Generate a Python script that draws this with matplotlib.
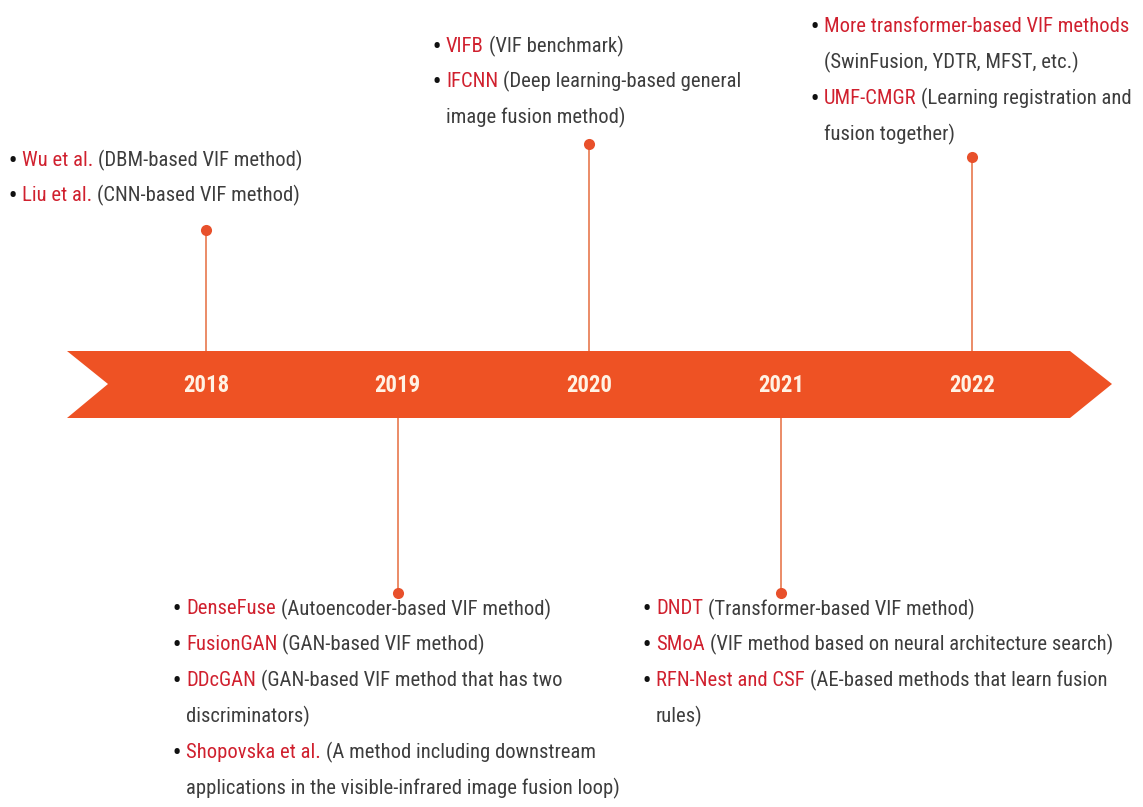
import logging
import matplotlib
matplotlib.use("Agg")
import matplotlib.pyplot as plt
from matplotlib.patches import Polygon
from matplotlib import font_manager

logging.getLogger("matplotlib.font_manager").setLevel(logging.ERROR)

# ---------------- data ----------------
years = ["2018", "2019", "2020", "2021", "2022"]
sides = ["up", "down", "up", "down", "up"]

events_2018 = [
    ("Wu et al.", ["(DBM-based VIF method)"]),
    ("Liu et al.", ["(CNN-based VIF method)"]),
]
events_2019 = [
    ("DenseFuse", ["(Autoencoder-based VIF method)"]),
    ("FusionGAN", ["(GAN-based VIF method)"]),
    ("DDcGAN", ["(GAN-based VIF method that has two", "discriminators)"]),
    ("Shopovska et al.", ["(A method including downstream",
                          "applications in the visible-infrared image fusion loop)"]),
]
events_2020 = [
    ("VIFB", ["(VIF benchmark)"]),
    ("IFCNN", ["(Deep learning-based general", "image fusion method)"]),
]
events_2021 = [
    ("DNDT", ["(Transformer-based VIF method)"]),
    ("SMoA", ["(VIF method based on neural architecture search)"]),
    ("RFN-Nest and CSF", ["(AE-based methods that learn fusion", "rules)"]),
]
events_2022 = [
    ("More transformer-based VIF methods", ["", "(SwinFusion, YDTR, MFST, etc.)"]),
    ("UMF-CMGR", ["(Learning registration and", "fusion together)"]),
]
events = [events_2018, events_2019, events_2020, events_2021, events_2022]

# ---------------- layout / style ----------------
W, H = 1143, 807
ARROW = "#EE5224"
STEM = "#E9825C"
DOT = "#E8502B"
RED = "#D0202E"
GREY = "#3D3D3D"
YEAR_C = "#FFF2E4"

pref = ["Liberation Sans Narrow", "Roboto Condensed", "Open Sans Condensed",
        "Lato", "Roboto"]
normal_fams = {f.name for f in font_manager.fontManager.ttflist
               if f.weight in (400, "normal", "regular", "book") and f.style == "normal"}
bold_fams = {f.name for f in font_manager.fontManager.ttflist
             if f.weight in (600, 700, "bold", "semibold")}
body = [f for f in pref if f in normal_fams][:1] + ["DejaVu Sans"]
head = [f for f in pref if f in bold_fams][:1] + ["DejaVu Sans"]
plt.rcParams["font.family"] = body

LINE = 35.8        # line spacing (px)
year_x0, year_step = 206, 191.6
band_top, band_bot, band_mid = 351, 418, 384
dot_y = [230, 593, 144, 593, 157]
text_xy = [(13, 160), (177, 609), (437, 46), (647, 609), (815, 27)]

fig = plt.figure(figsize=(W / 100, H / 100), dpi=100)
ax = fig.add_axes([0, 0, 1, 1])
ax.set_xlim(0, W)
ax.set_ylim(H, 0)
ax.axis("off")
renderer = fig.canvas.get_renderer()


def width_of(t):
    return t.get_window_extent(renderer=renderer).width


# fit font sizes to the reference text widths
probe = ax.text(0, 0, "DenseFuse (Autoencoder-based VIF method)", fontsize=14,
                fontweight="normal")
FS = 14 * 366.0 / width_of(probe)
probe.remove()
probe = ax.text(0, 0, "2018", fontsize=14, fontweight="bold", family=head)
YFS = 14 * 46.0 / width_of(probe)
probe.remove()

# arrow band
ax.add_patch(Polygon([(67, band_top), (1070, band_top), (1112, band_mid),
                      (1070, band_bot), (67, band_bot), (108, band_mid)],
                     closed=True, facecolor=ARROW, edgecolor="none", zorder=2))

for i, (yr, side) in enumerate(zip(years, sides)):
    x = year_x0 + i * year_step
    ax.text(x, band_mid + 1, yr, ha="center", va="center", color=YEAR_C,
            fontsize=YFS, fontweight="bold", family=head, zorder=3)
    y0 = band_top if side == "up" else band_bot
    ax.plot([x, x], [y0, dot_y[i]], color=STEM, lw=1.3, zorder=1)
    ax.plot([x], [dot_y[i]], "o", color=DOT, ms=8, mec="none", zorder=3)

    bx, by = text_xy[i]
    line = 0
    for label, desc in events[i]:
        y = by + line * LINE
        ax.text(bx, y + 1, "\u2022", ha="center", va="center", color="#111111",
                fontsize=FS * 1.1, fontweight="bold", zorder=3)
        lx = bx + 9
        t = ax.text(lx, y, label, ha="left", va="center", color=RED,
                    fontsize=FS, fontweight="normal", zorder=3)
        if desc[0]:
            ax.text(lx + width_of(t) + FS * 0.32, y, desc[0], ha="left", va="center",
                    color=GREY, fontsize=FS, fontweight="normal", zorder=3)
        for extra in desc[1:]:
            line += 1
            ax.text(lx, by + line * LINE, extra, ha="left", va="center",
                    color=GREY, fontsize=FS, fontweight="normal", zorder=3)
        line += 1

fig.savefig("out.png", dpi=100, facecolor="white")
